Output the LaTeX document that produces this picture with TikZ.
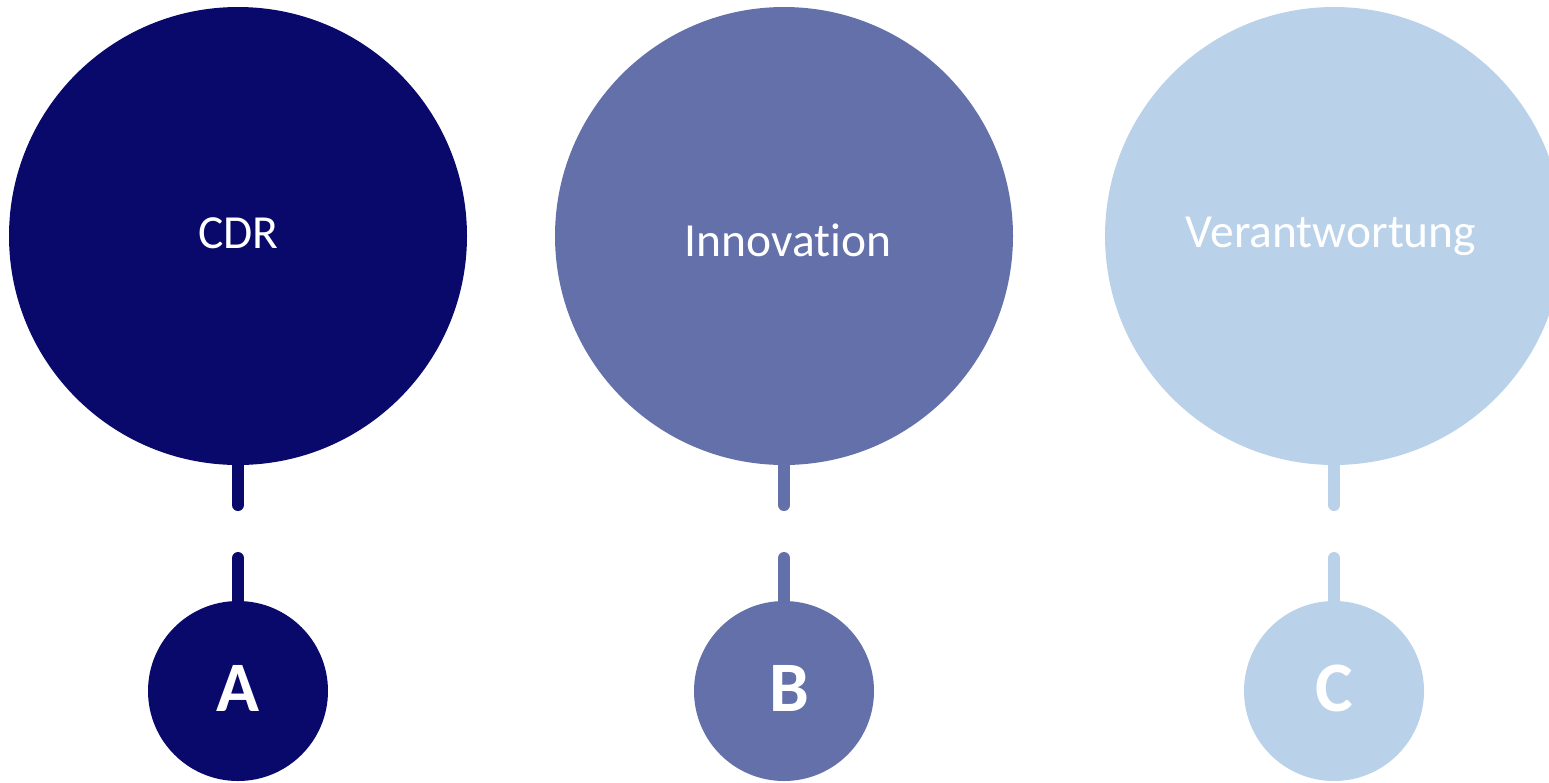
\documentclass[tikz,border=0pt]{standalone}
\usepackage{fontspec}
\setmainfont[Ligatures=NoCommon]{Carlito}
\definecolor{cnavy}{RGB}{9,9,107}
\definecolor{cmid}{RGB}{99,112,170}
\definecolor{clight}{RGB}{186,209,234}
\tikzset{
  bigc/.style={circle, inner sep=0pt, minimum size=458pt},
  smallc/.style={circle, inner sep=0pt, minimum size=180pt},
  conn/.style={line width=12pt, line cap=round},
  bigtext/.style={anchor=base, text=white, inner sep=0pt, font=\fontsize{47.5}{52}\selectfont},
  lettext/.style={anchor=base, text=white, inner sep=0pt, font=\fontsize{71}{76}\selectfont\bfseries},
}
\begin{document}
\begin{tikzpicture}[x=1pt,y=-1pt]
\useasboundingbox (0,0) rectangle (1549,782);
\clip (0,0) rectangle (1549,782);
\foreach \cx/\col/\nm/\txt/\tx/\ty/\lbl/\lx in {238/cnavy/a/CDR/238.5/248/A/238, 784/cmid/b/Innovation/788/256/B/789, 1334/clight/c/Verantwortung/1331/247/C/1334}{
  \node[bigc, fill=\col] (big\nm) at (\cx,236) {};
  \node[smallc, fill=\col] (small\nm) at (\cx,691) {};
  \coordinate (u\nm) at (\cx,505);
  \coordinate (l\nm) at (\cx,558);
  \draw[conn, draw=\col] ([yshift=8pt]big\nm.south) -- (u\nm);
  \draw[conn, draw=\col] (l\nm) -- ([yshift=-6pt]small\nm.north);
  \node[bigtext] (t\nm) at (\tx,\ty) {\txt};
  \node[lettext] (s\nm) at (\lx,711) {\lbl};
}
\end{tikzpicture}
\end{document}
